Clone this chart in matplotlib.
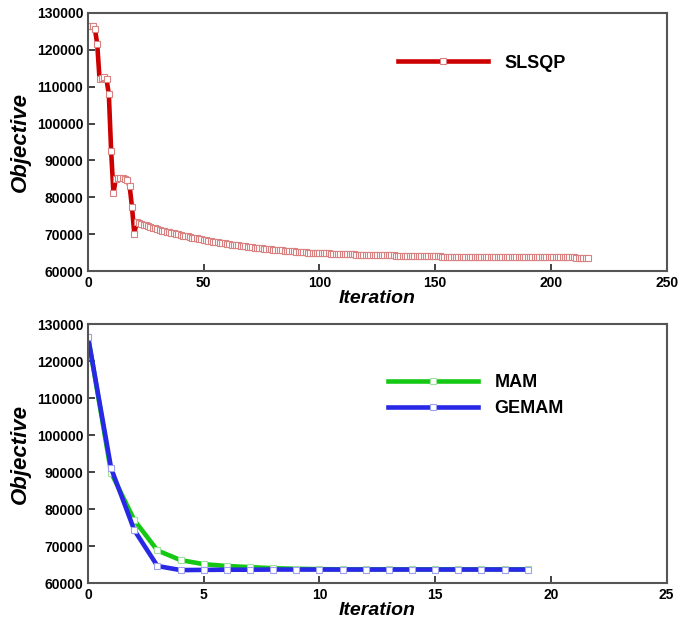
import matplotlib.pyplot as plt

plt.rcParams['font.family'] = ['Liberation Sans', 'DejaVu Sans']

# SLSQP objective per iteration (0..216)
slsqp_obj = [
    126500, 126500, 126400, 125700, 121500, 112000, 112500, 112700, 112000, 108000,
    92600, 81100, 85000, 85200, 85300, 85200, 85000, 84700, 83000, 77400,
    70200, 73200, 73000, 72800, 72600, 72400, 72200, 72000, 71800, 71600,
    71400, 71200, 71000, 70850, 70700, 70550, 70400, 70250, 70100, 69950,
    69800, 69650, 69500, 69400, 69250, 69100, 69000, 68850, 68700, 68600,
    68450, 68350, 68250, 68100, 68000, 67900, 67800, 67700, 67600, 67500,
    67400, 67300, 67200, 67100, 67000, 66950, 66850, 66750, 66700, 66600,
    66500, 66450, 66350, 66300, 66200, 66150, 66100, 66000, 65950, 65900,
    65850, 65800, 65700, 65650, 65600, 65550, 65500, 65450, 65400, 65350,
    65300, 65250, 65200, 65150, 65100, 65050, 65000, 64980, 64950, 64920,
    64900, 64870, 64840, 64810, 64780, 64750, 64720, 64700, 64680, 64650,
    64620, 64600, 64580, 64560, 64540, 64520, 64500, 64480, 64460, 64440,
    64420, 64400, 64390, 64370, 64350, 64340, 64320, 64310, 64290, 64280,
    64260, 64250, 64240, 64230, 64220, 64210, 64200, 64190, 64180, 64170,
    64160, 64150, 64140, 64130, 64120, 64110, 64100, 64090, 64080, 64070,
    64060, 64050, 64040, 63960, 63955, 63950, 63945, 63940, 63935, 63930,
    63925, 63920, 63915, 63910, 63905, 63900, 63895, 63890, 63885, 63880,
    63875, 63870, 63865, 63860, 63855, 63850, 63845, 63840, 63790, 63785,
    63780, 63775, 63770, 63765, 63760, 63755, 63750, 63745, 63740, 63738,
    63736, 63734, 63732, 63730, 63728, 63726, 63724, 63722, 63720, 63718,
    63716, 63714, 63712, 63710, 63708, 63706, 63704, 63702, 63700, 63698,
    63696, 63694, 63692, 63690, 63688, 63686, 63684,
]
slsqp_iter = list(range(len(slsqp_obj)))

# MAM and GEMAM objective per iteration (0..19), lower panel
mam_iter = list(range(20))
mam_obj = [126600, 89800, 77000, 68800, 66200, 65100, 64600, 64300, 64000, 63850,
           63750, 63700, 63700, 63700, 63700, 63700, 63700, 63700, 63700, 63700]
gemam_obj = [126600, 91000, 74300, 64600, 63500, 63550, 63600, 63600, 63650, 63650,
             63650, 63650, 63650, 63650, 63650, 63650, 63650, 63650, 63650, 63650]

fig = plt.figure(figsize=(6.8, 6.19), dpi=100)
ax1 = fig.add_axes([0.1294, 0.562, 0.851, 0.417])
ax2 = fig.add_axes([0.1294, 0.0581, 0.851, 0.4184])

ax1.plot(slsqp_iter, slsqp_obj, color='#cc0000', lw=3.3, marker='s', ms=4.5,
         mfc='white', mec='#d98080', mew=0.8, label='SLSQP')
ax2.plot(mam_iter, mam_obj, color='#14c814', lw=3.3, marker='s', ms=4.5,
         mfc='white', mec='#a0e0a0', mew=0.8, label='MAM')
ax2.plot(mam_iter, gemam_obj, color='#2828e6', lw=3.3, marker='s', ms=4.5,
         mfc='white', mec='#a0a0f0', mew=0.8, label='GEMAM')

ax1.set_xlim(0, 250)
ax1.set_xticks([0, 50, 100, 150, 200, 250])
ax2.set_xlim(0, 25)
ax2.set_xticks([0, 5, 10, 15, 20, 25])

for ax in (ax1, ax2):
    ax.set_ylim(60000, 130000)
    ax.set_yticks(range(60000, 130001, 10000))
    ax.tick_params(direction='in', length=5, width=1.2, color='#222222',
                   top=False, right=False, labelsize=10)
    for lab in ax.get_xticklabels() + ax.get_yticklabels():
        lab.set_fontweight('bold')
    for sp in ax.spines.values():
        sp.set_color('#555555')
        sp.set_linewidth(1.5)
    ax.set_ylabel('Objective', fontsize=16, fontweight='bold', style='italic', labelpad=4)
    ax.set_xlabel('Iteration', fontsize=14, fontweight='bold', style='italic', labelpad=0)

ax1.legend(loc='center left', bbox_to_anchor=(0.52, 0.806), frameon=False,
           handlelength=5.0, handletextpad=0.9, borderpad=0, numpoints=1,
           prop={'weight': 'bold', 'size': 13})
ax2.legend(loc='center left', bbox_to_anchor=(0.503, 0.724), frameon=False,
           handlelength=5.0, handletextpad=0.9, borderpad=0, numpoints=1,
           labelspacing=0.5, prop={'weight': 'bold', 'size': 13})

fig.savefig('out.png', dpi=100)
